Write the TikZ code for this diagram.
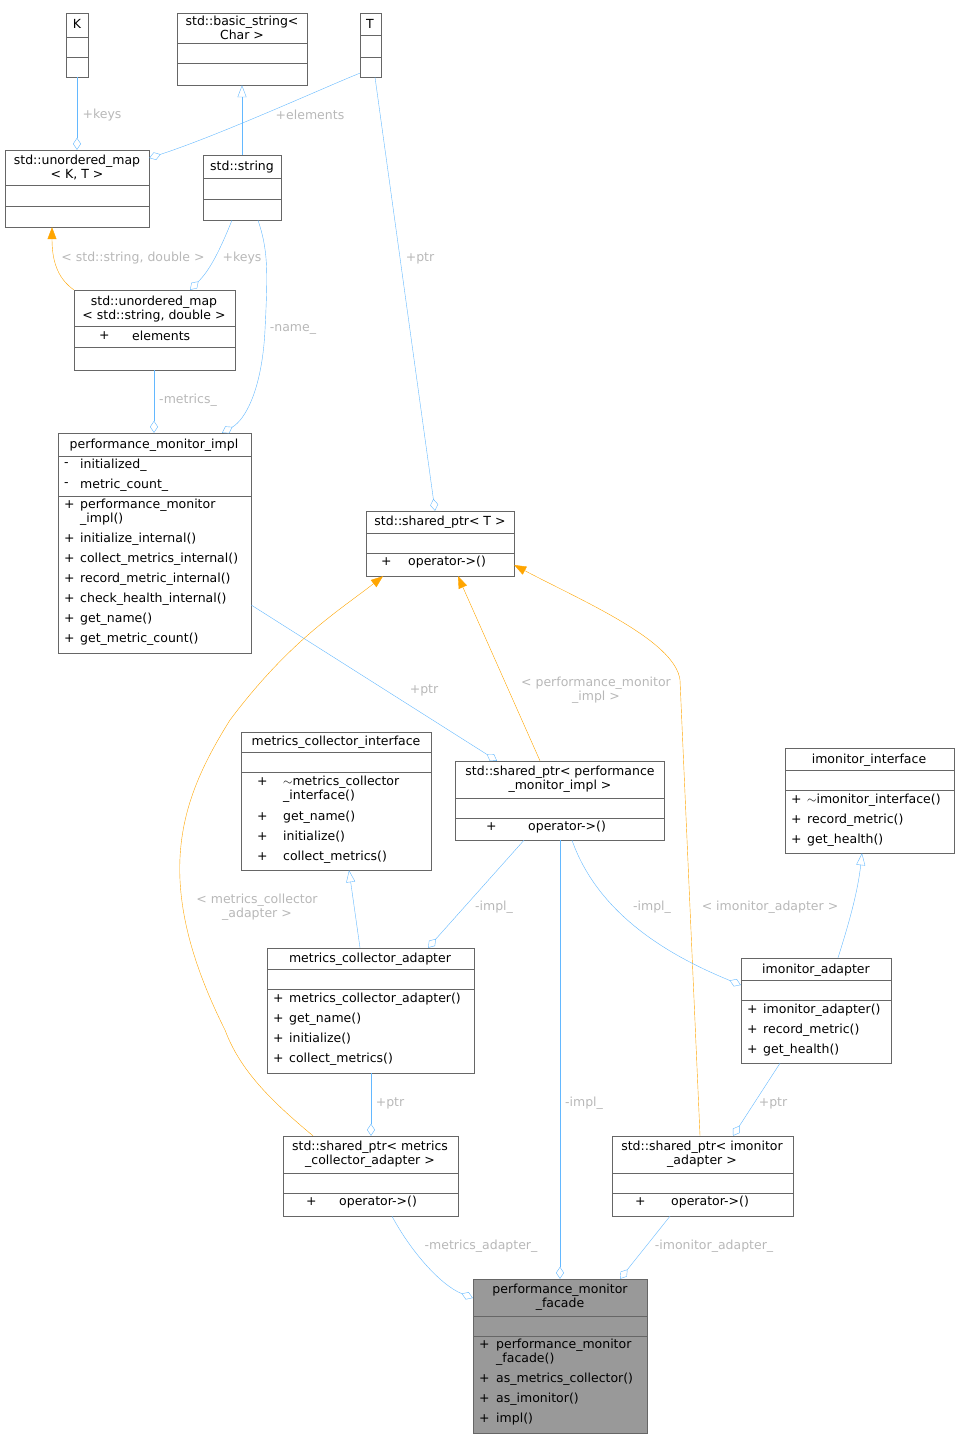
\documentclass[tikz,border=0pt]{standalone}
\usepackage{fontspec}
\setmainfont{DejaVu Sans}
\usetikzlibrary{arrows.meta}
\definecolor{edgeblue}{HTML}{63B8FF}
\definecolor{edgeorange}{HTML}{FFA500}
\definecolor{labelgray}{HTML}{B8B8B8}
\definecolor{boxline}{HTML}{666666}
\tikzset{
  cls/.style={draw=boxline, inner sep=0pt},
  txt/.style={inner sep=0pt, font=\fontsize{12.5}{14}\selectfont, align=center},
  mem/.style={txt, anchor=west},
  lbl/.style={txt, text=labelgray},
  agg/.style={draw=edgeblue, -{Diamond[open,length=12pt,width=8pt]}},
  inh/.style={draw=edgeblue, -{Triangle[open,length=12pt,width=9pt]}},
  tpl/.style={draw=edgeorange, -{Triangle[length=12pt,width=9pt]}, fill=none},
}
% class box: name, x1, y1, x2, y2, first rule, second rule, fill
\newcommand\umlbox[8]{%
  \node[cls, fill=#8, minimum width={#4pt-#2pt}, minimum height={#5pt-#3pt}]
    (#1) at ({(#2+#4)/2},{(#3+#5)/2}) {};
  \draw[boxline] (#2,#6) -- (#4,#6) (#2,#7) -- (#4,#7);}
\begin{document}
\begin{tikzpicture}[x=1pt, y=-1pt]
\useasboundingbox (0,0) rectangle (959,1439);

% classes
\umlbox{K}{66}{13}{88}{77}{37}{57}{white}
\node[txt] at (77,24) {K};
\umlbox{basicstr}{177}{13}{307}{85}{43}{63}{white}
\node[txt] at (242,28) {std::basic\_string<\\Char >};
\umlbox{T}{360}{13}{381}{77}{35}{57}{white}
\node[txt] at (370,24) {T};
\umlbox{mapKT}{5}{150}{149}{227}{185}{206}{white}
\node[txt] at (77,167) {std::unordered\_map\\< K, T >};
\umlbox{str}{203}{155}{281}{220}{178}{199}{white}
\node[txt] at (242,167) {std::string};
\umlbox{mapSD}{74}{290}{235}{370}{326}{347}{white}
\node[txt] at (154,309) {std::unordered\_map\\< std::string, double >};
\node[mem] at (99,336) {+}; \node[mem] at (132,336) {elements};

\umlbox{impl}{58}{433}{251}{653}{456}{496}{white}
\node[txt] at (154,445) {performance\_monitor\_impl};
\foreach \y/\s/\t in {465/-/initialized\_, 485/-/metric\_count\_,
    505/+/performance\_monitor, 539/+/initialize\_internal(),
    559/+/collect\_metrics\_internal(), 579/+/record\_metric\_internal(),
    599/+/check\_health\_internal(), 619/+/get\_name(), 639/+/get\_metric\_count()}
  {\node[mem] at (64,\y) {\s}; \node[mem] at (80,\y) {\t};}
\node[mem] at (80,519) {\_impl()};

\umlbox{spT}{366}{511}{514}{576}{533}{553}{white}
\node[txt] at (440,522) {std::shared\_ptr< T >};
\node[mem] at (381,562) {+}; \node[mem] at (408,562) {operator->()};

\umlbox{mci}{241}{732}{431}{870}{752}{772}{white}
\node[txt] at (336,742) {metrics\_collector\_interface};
\foreach \y/\t in {782/$\sim$metrics\_collector, 817/get\_name(), 837/initialize(), 857/collect\_metrics()}
  {\node[mem] at (257,\y) {+}; \node[mem] at (283,\y) {\t};}
\node[mem] at (283,796) {\_interface()};

\umlbox{spimpl}{455}{761}{664}{840}{798}{818}{white}
\node[txt] at (560,779) {std::shared\_ptr< performance\\\_monitor\_impl >};
\node[mem] at (486,827) {+}; \node[mem] at (528,827) {operator->()};

\umlbox{imi}{785}{748}{954}{853}{770}{790}{white}
\node[txt] at (869,760) {imonitor\_interface};
\foreach \y/\t in {800/$\sim$imonitor\_interface(), 820/record\_metric(), 840/get\_health()}
  {\node[mem] at (791,\y) {+}; \node[mem] at (807,\y) {\t};}

\umlbox{mca}{267}{948}{474}{1073}{969}{989}{white}
\node[txt] at (370,959) {metrics\_collector\_adapter};
\foreach \y/\t in {999/metrics\_collector\_adapter(), 1019/get\_name(), 1039/initialize(), 1059/collect\_metrics()}
  {\node[mem] at (273,\y) {+}; \node[mem] at (289,\y) {\t};}

\umlbox{ima}{741}{958}{891}{1063}{980}{1000}{white}
\node[txt] at (816,970) {imonitor\_adapter};
\foreach \y/\t in {1010/imonitor\_adapter(), 1030/record\_metric(), 1050/get\_health()}
  {\node[mem] at (747,\y) {+}; \node[mem] at (763,\y) {\t};}

\umlbox{spmca}{283}{1136}{458}{1216}{1173}{1193}{white}
\node[txt] at (370,1154) {std::shared\_ptr< metrics\\\_collector\_adapter >};
\node[mem] at (306,1202) {+}; \node[mem] at (339,1202) {operator->()};

\umlbox{spima}{612}{1136}{793}{1216}{1173}{1193}{white}
\node[txt] at (702,1154) {std::shared\_ptr< imonitor\\\_adapter >};
\node[mem] at (635,1202) {+}; \node[mem] at (671,1202) {operator->()};

\umlbox{facade}{473}{1279}{647}{1433}{1316}{1336}{black!40}
\node[txt] at (560,1297) {performance\_monitor\\\_facade};
\foreach \y/\t in {1345/performance\_monitor, 1379/as\_metrics\_collector(), 1399/as\_imonitor(), 1419/impl()}
  {\node[mem] at (479,\y) {+}; \node[mem] at (496,\y) {\t};}
\node[mem] at (496,1359) {\_facade()};

% connectors
\draw[agg] (K.south) -- (mapKT.north -| 77,0);
\node[lbl] at (102,115) {+keys};
\draw[agg] (T.south west) ++(0,-4) .. controls (330,85) and (220,135) .. (mapKT.north east |- 0,158);
\node[lbl] at (310,115) {+elements};
\draw[inh] (str.north -| 242,0) -- (basicstr.south -| 242,0);
\draw[agg] (str.south -| 232,0) .. controls (220,250) and (210,270) .. (mapSD.north -| 190,0);
\node[lbl] at (242,258) {+keys};
\draw[tpl] (mapSD.north west) .. controls (60,280) and (52,265) .. (mapKT.south -| 52,0);
\node[lbl] at (133,258) {< std::string, double >};
\draw[agg] (str.south -| 258,0) .. controls (268,250) and (268,270) .. (265,330)
  .. controls (262,390) and (245,420) .. (impl.north -| 222,0);
\node[lbl] at (293,329) {-name\_};
\draw[agg] (mapSD.south -| 154,0) -- (impl.north -| 154,0);
\node[lbl] at (188,400) {-metrics\_};
\draw[agg] (T.south -| 375,0) -- (spT.north -| 435,0);
\node[lbl] at (420,258) {+ptr};
\draw[agg] (impl.east |- 0,605) -- (spimpl.north -| 497,0);
\node[lbl] at (424,690) {+ptr};
\draw[tpl] (spimpl.north -| 540,0) -- (spT.south -| 458,0);
\node[lbl] at (596,690) {< performance\_monitor\\\_impl >};
\draw[tpl] (spmca.north -| 313,0) .. controls (270,1100) and (240,1070) .. (225,1030)
  .. controls (150,880) and (180,800) .. (230,720) .. controls (290,640) and (340,610) .. (spT.south -| 383,0);
\node[lbl] at (257,907) {< metrics\_collector\\\_adapter >};
\draw[tpl] (spima.north -| 700,0) -- (680,680) .. controls (675,640) and (580,600) .. (spT.east |- 0,565);
\node[lbl] at (770,907) {< imonitor\_adapter >};
\draw[inh] (mca.north -| 360,0) -- (mci.south -| 349,0);
\draw[agg] (spimpl.south -| 524,0) -- (mca.north -| 428,0);
\node[lbl] at (494,907) {-impl\_};
\draw[agg] (spimpl.south -| 572,0) .. controls (600,920) and (680,960) .. (ima.west |- 0,985);
\node[lbl] at (652,907) {-impl\_};
\draw[inh] (ima.north -| 838,0) .. controls (850,920) and (858,890) .. (imi.south -| 862,0);
\draw[agg] (mca.south -| 371,0) -- (spmca.north -| 371,0);
\node[lbl] at (390,1103) {+ptr};
\draw[agg] (ima.south -| 780,0) -- (spima.north -| 733,0);
\node[lbl] at (773,1103) {+ptr};
\draw[agg] (spimpl.south -| 560,0) -- (facade.north -| 560,0);
\node[lbl] at (584,1103) {-impl\_};
\draw[agg] (spmca.south -| 392,0) .. controls (410,1250) and (440,1285) .. (facade.west |- 0,1298);
\node[lbl] at (481,1246) {-metrics\_adapter\_};
\draw[agg] (spima.south -| 670,0) -- (facade.north -| 620,0);
\node[lbl] at (714,1246) {-imonitor\_adapter\_};
\end{tikzpicture}
\end{document}
